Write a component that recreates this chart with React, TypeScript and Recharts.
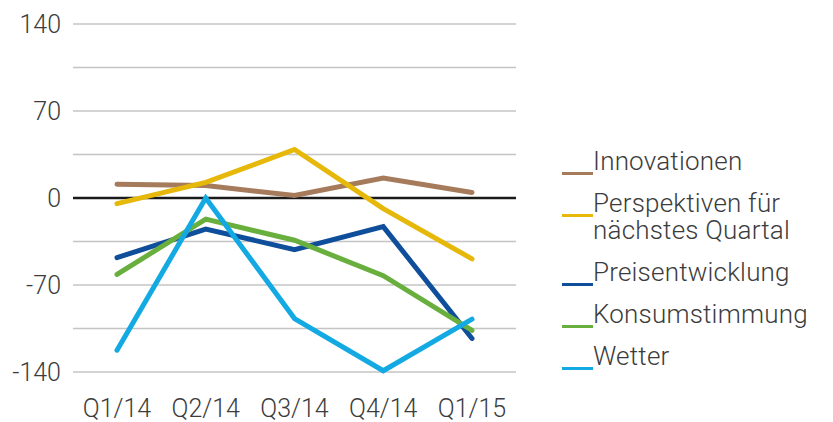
import React from "react";
import { LineChart, Line, XAxis, YAxis, CartesianGrid, ReferenceLine } from "recharts";

const quarters = ["Q1/14", "Q2/14", "Q3/14", "Q4/14", "Q1/15"];
const innovationen = [11, 10, 2, 16, 4.5];
const perspektiven = [-4.5, 12.5, 39, -8.5, -49];
const preisentwicklung = [-48, -25, -41.5, -23, -113];
const konsumstimmung = [-61.5, -17, -34, -62.5, -106.5];
const wetter = [-122.5, 0, -97, -139, -97.5];
const yTicks = [-140, -105, -70, -35, 0, 35, 70, 105, 140];

const seriesDefs = [
  { key: "innovationen", name: "Innovationen", color: "#A67B5B", values: innovationen },
  { key: "perspektiven", name: "Perspektiven für nächstes Quartal", color: "#E6B80A", values: perspektiven },
  { key: "preisentwicklung", name: "Preisentwicklung", color: "#0F4E9B", values: preisentwicklung },
  { key: "konsumstimmung", name: "Konsumstimmung", color: "#69AF3E", values: konsumstimmung },
  { key: "wetter", name: "Wetter", color: "#13A9E2", values: wetter },
];

const data = quarters.map((q, i) => {
  const row: Record<string, string | number> = { q };
  seriesDefs.forEach((s) => (row[s.key] = s.values[i]));
  return row;
});

const FONT = "Roboto, 'Noto Sans', sans-serif";
const TEXT = "#3c3c3c";

const ChartLegend = () => (
  <div
    style={{
      position: "absolute",
      left: 562,
      top: 148,
      display: "flex",
      flexDirection: "column",
      fontFamily: FONT,
      fontWeight: 300,
      fontSize: 26,
      letterSpacing: 0.2,
      color: TEXT,
    }}
  >
    {seriesDefs.map((s) => (
      <div key={s.key} style={{ position: "relative", paddingLeft: 31, marginBottom: 15, lineHeight: "27px", width: 240 }}>
        <span style={{ position: "absolute", left: 0, top: 24, width: 31, height: 3, background: s.color }} />
        <span>{s.name}</span>
      </div>
    ))}
  </div>
);

export default function App() {
  return (
    <div style={{ width: 833, height: 422, position: "relative" }}>
      <style>{`body{margin:0}`}</style>
      <LineChart width={833} height={422} data={data} margin={{ top: 24, right: 317, bottom: 0, left: 0 }}>
        <CartesianGrid horizontal={true} vertical={false} stroke="#c4c4c4" strokeWidth={1.5} />
        <XAxis
          dataKey="q"
          height={50}
          axisLine={false}
          tickLine={false}
          tickSize={0}
          tickMargin={27}
          padding={{ left: 44, right: 44 }}
          tick={{ fill: TEXT, fontSize: 25, fontFamily: FONT, fontWeight: 300 }}
          interval={0}
        />
        <YAxis
          domain={[-140, 140]}
          ticks={yTicks}
          width={73}
          axisLine={false}
          tickLine={false}
          tickSize={0}
          tickMargin={12}
          interval={0}
          tickFormatter={(v: number) => (v % 70 === 0 ? String(v) : "")}
          tick={{ fill: TEXT, fontSize: 25, fontFamily: FONT, fontWeight: 300 }}
        />
        <ReferenceLine y={0} stroke="#1a1a1a" strokeWidth={2.5} />
        {seriesDefs.map((s) => (
          <Line
            key={s.key}
            dataKey={s.key}
            name={s.name}
            stroke={s.color}
            strokeWidth={5}
            strokeLinecap="round"
            strokeLinejoin="miter"
            dot={false}
            activeDot={false}
            isAnimationActive={false}
          />
        ))}
      </LineChart>
      <ChartLegend />
    </div>
  );
}
